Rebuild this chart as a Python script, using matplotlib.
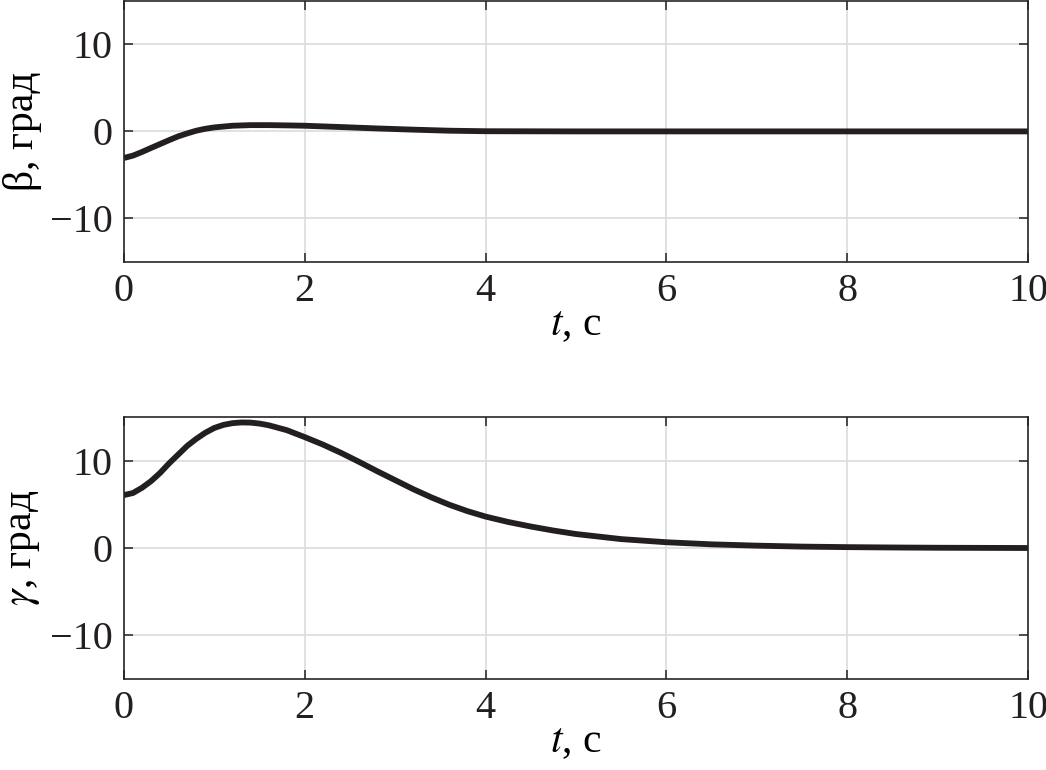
import numpy as np
import matplotlib.pyplot as plt

plt.rcParams['font.family'] = ['Liberation Serif', 'DejaVu Serif']
plt.rcParams['mathtext.fontset'] = 'stix'

# sideslip angle beta, deg
t_beta = [0.0, 0.1, 0.2, 0.3, 0.4, 0.5, 0.6, 0.7, 0.8, 0.9, 1.0, 1.2, 1.4, 1.6, 1.8,
          2.0, 2.4, 2.8, 3.2, 3.6, 4.0, 5.0, 6.0, 8.0, 10.0]
beta = [-3.05, -2.78, -2.36, -1.9, -1.45, -1.0, -0.57, -0.23, 0.08, 0.3, 0.46, 0.65,
        0.72, 0.72, 0.69, 0.65, 0.5, 0.34, 0.2, 0.08, 0.02, 0.0, 0.0, 0.0, 0.0]

# roll angle gamma, deg
t_gamma = [0.0, 0.1, 0.2, 0.3, 0.4, 0.5, 0.6, 0.7, 0.8, 0.9, 1.0, 1.1, 1.2, 1.3, 1.4,
           1.5, 1.6, 1.8, 2.0, 2.2, 2.4, 2.6, 2.8, 3.0, 3.2, 3.4, 3.6, 3.8, 4.0,
           4.25, 4.5, 4.75, 5.0, 5.5, 6.0, 6.5, 7.0, 7.5, 8.0, 8.5, 9.0, 10.0]
gamma = [6.06, 6.3, 6.9, 7.66, 8.6, 9.7, 10.7, 11.7, 12.5, 13.2, 13.75, 14.1, 14.3,
         14.38, 14.36, 14.25, 14.06, 13.5, 12.7, 11.85, 10.9, 9.87, 8.8, 7.77, 6.74,
         5.8, 4.95, 4.22, 3.6, 2.98, 2.46, 2.0, 1.6, 1.02, 0.66, 0.42, 0.27, 0.16,
         0.1, 0.06, 0.03, 0.0]

fig = plt.figure(figsize=(10.46, 7.70), dpi=100)
ax1 = fig.add_axes([0.1185, 0.6597, 0.8643, 0.3393])
ax2 = fig.add_axes([0.1185, 0.1182, 0.8643, 0.3402])

for ax, x, y, lab in [(ax1, t_beta, beta, 'β, град'),
                      (ax2, t_gamma, gamma, '$\\gamma$, град')]:
    ax.plot(x, y, color='#231f20', lw=4.2, solid_capstyle='butt', solid_joinstyle='round')
    ax.set_xlim(0, 10)
    ax.set_ylim(-15, 15)
    ax.set_xticks([0, 2, 4, 6, 8, 10])
    ax.set_yticks([-10, 0, 10])
    ax.set_yticklabels(['\u221210', '0', '10'])
    ax.grid(True, color='#dcdcdc', lw=1.2)
    ax.tick_params(direction='in', length=6.5, width=1.1, top=True, right=True,
                   labelsize=29, colors='#231f20', pad=8)
    for s in ax.spines.values():
        s.set_linewidth(1.2)
        s.set_color('#262626')
    ax.set_xlabel('$t$, с', fontsize=30, labelpad=-3)
    ax.set_ylabel(lab, fontsize=30, labelpad=6)

fig.savefig('out.png', dpi=100)
plt.show()
